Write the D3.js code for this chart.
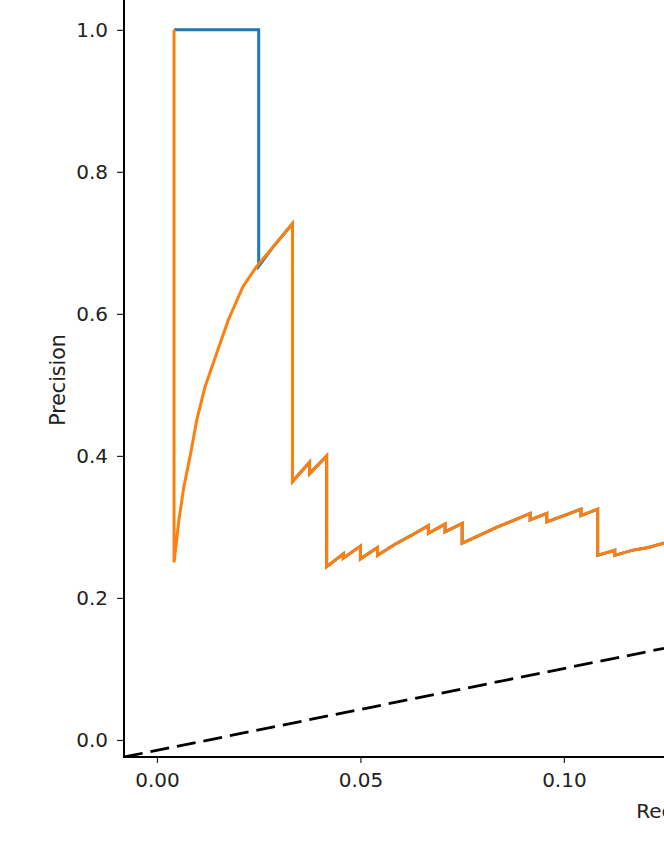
<!DOCTYPE html>
<html>
<head>
<meta charset="utf-8">
<script src="https://cdn.jsdelivr.net/npm/d3@7/dist/d3.min.js"></script>
<style>
  html, body { margin: 0; padding: 0; background: #fff; overflow: hidden; }
  svg { display: block; }
  text { font-family: "DejaVu Sans", sans-serif; fill: #222; }
</style>
</head>
<body>
<script>
// ---- data ----
const orangeRecall = [0.0042, 0.0042, 0.0054, 0.0066, 0.0083, 0.0098, 0.0118, 0.0147, 0.0175, 0.0211,
  0.0245, 0.0285, 0.0333, 0.0333,
  0.0375, 0.0375, 0.0417, 0.0417, 0.0458, 0.0458, 0.0500, 0.0500, 0.0542, 0.0542,
  0.0583, 0.0625, 0.0667, 0.0667, 0.0708, 0.0708, 0.0750, 0.0750, 0.0792, 0.0833,
  0.0875, 0.0917, 0.0917, 0.0958, 0.0958, 0.1000, 0.1042, 0.1042, 0.1083, 0.1083,
  0.1125, 0.1125, 0.1167, 0.1208, 0.1250];
const orangePrecision = [1.000, 0.250, 0.310, 0.356, 0.404, 0.451, 0.497, 0.545, 0.591, 0.638,
  0.667, 0.694, 0.727, 0.364,
  0.391, 0.375, 0.400, 0.244, 0.262, 0.256, 0.273, 0.255, 0.271, 0.260,
  0.275, 0.288, 0.302, 0.291, 0.304, 0.293, 0.305, 0.277, 0.288, 0.299,
  0.309, 0.319, 0.310, 0.319, 0.307, 0.316, 0.325, 0.316, 0.325, 0.260,
  0.267, 0.260, 0.267, 0.271, 0.278];
// blue: perfect precision for the first hits, then it coincides with the orange curve
const blueHeadRecall = [0.0042, 0.0083, 0.0125, 0.0167, 0.0208, 0.0250, 0.0250];
const blueHeadPrecision = [1.000, 1.000, 1.000, 1.000, 1.000, 1.000, 0.667];
const blueTailFrom = 11; // index in the orange arrays where the blue curve joins it
const baselineRecall = [-0.0081, 0.1246];
const baselinePrecision = [-0.024, 0.129];
const xTicks = [0.00, 0.05, 0.10];
const yTicks = [0.0, 0.2, 0.4, 0.6, 0.8, 1.0];
const xLabel = "Recall";
const yLabel = "Precision";

// ---- layout ----
const W = 664, H = 860;
const mLeft = 124, mBottom = 757, mRight = 664, mTop = 0;

const svg = d3.select("body").append("svg").attr("width", W).attr("height", H);

const x = d3.scaleLinear().domain([-0.0081, 0.1246]).range([mLeft, mRight]);
const y = d3.scaleLinear().domain([-0.024, 1.042]).range([mBottom, mTop]);

svg.append("clipPath").attr("id", "plotclip")
  .append("rect").attr("x", mLeft).attr("y", mTop).attr("width", mRight - mLeft).attr("height", mBottom - mTop);

const line = d3.line().x(d => x(d[0])).y(d => y(d[1]));
const zip = (a, b) => a.map((v, i) => [v, b[i]]);

const orange = zip(orangeRecall, orangePrecision);
const blue = zip(blueHeadRecall, blueHeadPrecision).concat(orange.slice(blueTailFrom));
const baseline = zip(baselineRecall, baselinePrecision);

const g = svg.append("g").attr("clip-path", "url(#plotclip)");
g.append("path").attr("d", line(blue)).attr("fill", "none")
  .attr("stroke", "#1f77b4").attr("stroke-width", 3).attr("stroke-linejoin", "miter");
g.append("path").attr("d", line(orange)).attr("fill", "none")
  .attr("stroke", "#ff7f0e").attr("stroke-width", 3).attr("stroke-linejoin", "miter");
g.append("path").attr("d", line(baseline)).attr("fill", "none")
  .attr("stroke", "#000").attr("stroke-width", 2.8).attr("stroke-dasharray", "19,8");

// axes
const xAxis = d3.axisBottom(x).tickValues(xTicks).tickFormat(d3.format(".2f")).tickSize(6).tickPadding(10);
const yAxis = d3.axisLeft(y).tickValues(yTicks).tickFormat(d3.format(".1f")).tickSize(7).tickPadding(9);

const gx = svg.append("g").attr("transform", `translate(0,${mBottom})`).call(xAxis);
const gy = svg.append("g").attr("transform", `translate(${mLeft},0)`).call(yAxis);
[gx, gy].forEach(ax => {
  ax.select(".domain").remove();
  ax.selectAll(".tick line").attr("stroke", "#222").attr("stroke-width", 1.2);
  ax.selectAll(".tick text").attr("font-size", 20).attr("fill", "#222")
    .attr("font-family", "DejaVu Sans, sans-serif");
});

// spines
svg.append("line").attr("x1", mLeft).attr("x2", mLeft).attr("y1", mTop).attr("y2", mBottom + 1)
  .attr("stroke", "#000").attr("stroke-width", 2);
svg.append("line").attr("x1", mLeft - 1).attr("x2", mRight).attr("y1", mBottom).attr("y2", mBottom)
  .attr("stroke", "#000").attr("stroke-width", 2);

// labels
svg.append("text").attr("x", 666).attr("y", 818).attr("text-anchor", "middle")
  .attr("font-size", 20).text(xLabel);
svg.append("text").attr("transform", "translate(65,380) rotate(-90)").attr("text-anchor", "middle")
  .attr("font-size", 20.5).text(yLabel);
</script>
</body>
</html>
